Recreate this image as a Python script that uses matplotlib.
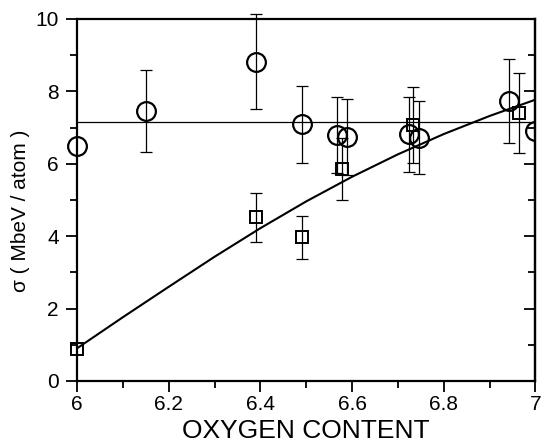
import numpy as np
import matplotlib
matplotlib.use("Agg")
import matplotlib.pyplot as plt
from matplotlib.ticker import MultipleLocator

plt.rcParams['font.family'] = ['Liberation Sans', 'DejaVu Sans']

# circles (sigma vs oxygen content)
circ_x = [6.00, 6.15, 6.39, 6.49, 6.568, 6.588, 6.724, 6.747, 6.943, 7.00]
circ_y = [6.50, 7.45, 8.82, 7.09, 6.80, 6.75, 6.81, 6.72, 7.74, 6.90]
circ_err = [0.0, 1.13, 1.32, 1.07, 1.05, 1.05, 1.03, 1.01, 1.16, 0.0]

# squares
sq_x = [6.00, 6.39, 6.49, 6.578, 6.733, 6.965]
sq_y = [0.88, 4.52, 3.97, 5.85, 7.07, 7.41]
sq_err = [0.0, 0.68, 0.60, 0.86, 1.05, 1.10]

fit_x = [6.0, 6.1, 6.2, 6.3, 6.4, 6.5, 6.6, 6.7, 6.8, 6.9, 7.0]
fit_y = [0.90, 1.76, 2.60, 3.43, 4.22, 4.96, 5.64, 6.26, 6.82, 7.32, 7.77]
level = 7.14

fig = plt.figure(figsize=(5.42, 4.47), dpi=100)
ax = fig.add_axes([0.142, 0.1477, 0.846, 0.81])

ax.axhline(level, color='black', lw=0.9)
ax.plot(fit_x, fit_y, color='black', lw=1.5)

# error bars
for xs, ys, es in [(circ_x, circ_y, circ_err), (sq_x, sq_y, sq_err)]:
    xs, ys, es = np.array(xs), np.array(ys), np.array(es)
    m = es > 0
    eb = ax.errorbar(xs[m], ys[m], yerr=es[m], fmt='none', ecolor='black',
                     elinewidth=0.9, capsize=4, capthick=0.9)
    for art in eb.lines[1] + eb.lines[2]:
        art.set_clip_on(False)

# markers (left edge points drawn unclipped, right edge circle clipped)
ax.plot(circ_x[:-1], circ_y[:-1], 'o', ms=13.5, mfc='none', mec='black',
        mew=1.6, clip_on=False)
ax.plot(circ_x[-1:], circ_y[-1:], 'o', ms=13.5, mfc='none', mec='black',
        mew=1.6)
ax.plot(sq_x, sq_y, 's', ms=8.5, mfc='none', mec='black', mew=1.4,
        clip_on=False)

ax.set_xlim(6, 7)
ax.set_ylim(0, 10)
ax.xaxis.set_minor_locator(MultipleLocator(0.1))
ax.yaxis.set_major_locator(MultipleLocator(2))
ax.yaxis.set_minor_locator(MultipleLocator(1))
ax.set_xticks([6, 6.2, 6.4, 6.6, 6.8, 7])
ax.set_xticklabels(['6', '6.2', '6.4', '6.6', '6.8', '7'])

ax.tick_params(which='both', direction='out', width=1.3,
               labelsize=15, top=False)
ax.tick_params(which='major', length=8)
ax.tick_params(which='minor', length=5)
ax.tick_params(axis='x', pad=2)
ax.tick_params(axis='y', pad=5)
for s in ax.spines.values():
    s.set_linewidth(1.6)

# inward ticks on the right spine
ax2 = ax.secondary_yaxis('right')
ax2.yaxis.set_major_locator(MultipleLocator(2))
ax2.yaxis.set_minor_locator(MultipleLocator(1))
ax2.tick_params(which='both', direction='in', width=1.3, labelright=False)
ax2.tick_params(which='major', length=8)
ax2.tick_params(which='minor', length=5)
ax2.spines['right'].set_linewidth(1.6)

ax.set_xlabel('OXYGEN CONTENT', fontsize=19, labelpad=4)
ax.set_ylabel('σ ( MbeV / atom )', fontsize=15)
ax.yaxis.set_label_coords(-0.103, 0.47)

fig.savefig('out.png', dpi=100)
